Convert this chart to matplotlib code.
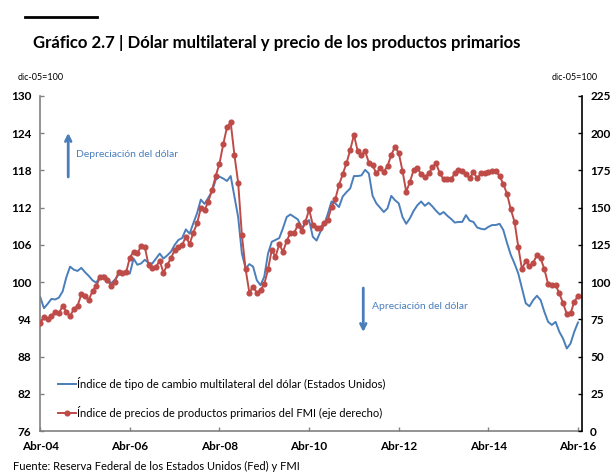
import matplotlib.pyplot as plt
import numpy as np

plt.rcParams['font.family'] = ['Lato', 'DejaVu Sans']

# monthly data, Apr-04 .. Apr-16
dolar = [97.6, 95.8, 96.5, 97.3, 97.2, 97.5, 98.5, 100.8, 102.5, 102.0,
         101.8, 102.3, 101.6, 101.0, 100.3, 99.9, 100.9, 101.1, 100.5, 99.8,
         100.4, 101.2, 101.4, 101.3, 101.4, 103.8, 102.8, 103.0, 103.6, 103.1,
         103.0, 103.8, 104.6, 103.8, 104.3, 104.9, 106.0, 106.8, 107.1, 108.5,
         107.8, 109.5, 111.1, 113.3, 112.6, 113.6, 114.6, 116.5, 117.0, 116.7,
         116.3, 117.1, 113.8, 110.5, 104.6, 102.2, 102.9, 102.5, 100.3, 99.5,
         100.9, 104.6, 106.5, 106.8, 107.1, 108.7, 110.5, 110.9, 110.5, 110.1,
         108.7, 109.5, 110.0, 107.3, 106.7, 108.1, 109.2, 111.0, 113.0, 112.7,
         112.1, 113.8, 114.5, 115.1, 117.1, 117.1, 117.2, 118.1, 117.5, 113.9,
         112.7, 112.0, 111.3, 111.9, 113.9, 113.2, 112.7, 110.5, 109.4, 110.3,
         111.5, 112.4, 113.0, 112.3, 112.8, 112.2, 111.5, 110.9, 111.3, 110.7,
         110.2, 109.6, 109.7, 109.7, 110.8, 109.9, 109.7, 108.8, 108.6, 108.5,
         108.9, 109.2, 109.2, 109.4, 108.4, 106.3, 104.4, 103.0, 101.4, 99.0,
         96.6, 96.1, 97.1, 97.8, 97.1, 95.2, 93.6, 93.1, 93.6, 92.0,
         90.9, 89.3, 90.1, 92.0, 93.5]

primarios = [72.7, 76.3, 75.0, 77.2, 80.1, 79.0, 84.0, 80.1, 77.2, 81.9,
             84.0, 91.8, 90.9, 88.0, 94.0, 97.4, 103.2, 103.6, 101.4, 97.4,
             100.3, 107.0, 105.9, 106.5, 116.5, 120.4, 119.3, 124.2, 123.8, 111.5,
             109.3, 110.3, 114.4, 106.3, 111.5, 116.0, 121.6, 123.4, 124.9, 130.5,
             125.6, 133.2, 139.5, 149.6, 148.4, 154.0, 161.9, 171.3, 179.6, 192.5,
             204.0, 207.3, 185.4, 166.8, 131.6, 108.6, 92.9, 96.9, 92.9, 94.7,
             98.7, 108.6, 121.6, 117.0, 125.4, 120.4, 127.6, 133.2, 133.2, 138.3,
             134.5, 140.2, 148.9, 138.3, 136.1, 136.5, 139.9, 141.7, 150.6, 155.6,
             165.2, 172.4, 179.8, 188.7, 198.8, 188.2, 185.4, 188.0, 180.2, 178.6,
             173.0, 176.4, 174.1, 178.0, 185.4, 190.9, 186.7, 174.8, 160.7, 167.4,
             175.3, 176.4, 172.6, 170.4, 173.0, 177.1, 179.8, 173.0, 169.0, 169.0,
             169.0, 173.0, 175.3, 174.8, 172.6, 169.7, 174.1, 169.7, 173.0, 173.5,
             174.1, 174.8, 174.8, 171.3, 165.9, 159.2, 148.9, 140.6, 123.8, 108.6,
             114.4, 110.8, 113.0, 118.2, 116.0, 108.6, 98.7, 98.0, 98.0, 92.5,
             85.8, 78.6, 79.0, 86.8, 90.7]

tick_labels = ['Abr-04', 'Abr-06', 'Abr-08', 'Abr-10', 'Abr-12', 'Abr-14', 'Abr-16']

blue = '#4a7ebb'
red = '#be4b48'
gray = '#808080'

x = np.arange(len(dolar))

fig = plt.figure(figsize=(6.13, 4.75), dpi=100)
ax = fig.add_axes([0.065, 0.0926, 0.884, 0.7053])
ax2 = ax.twinx()

l1, = ax.plot(x, dolar, color=blue, lw=1.4)
l2, = ax2.plot(x, primarios, color=red, lw=1.4, marker='o', ms=3.4)

ax.set_xlim(-0.1, 145)
ax.set_ylim(76, 130)
ax.set_yticks(np.arange(76, 131, 6))
ax2.set_ylim(0, 225)
ax2.set_yticks(np.arange(0, 226, 25))
ax.set_xticks(np.arange(0, 145, 24))
ax.set_xticklabels(tick_labels)

for a in (ax, ax2):
    a.spines['top'].set_visible(False)
ax.spines['left'].set_color(gray)
ax.spines['bottom'].set_color(gray)
ax.spines['right'].set_visible(False)
ax2.spines['left'].set_visible(False)
ax2.spines['bottom'].set_visible(False)
ax2.spines['right'].set_color('black')
for a in (ax, ax2):
    for s in a.spines.values():
        s.set_linewidth(1.2)

ax.tick_params(axis='both', direction='in', length=3, width=1, color=gray,
               labelsize=8.5, pad=6)
ax.tick_params(axis='x', pad=7)
ax2.tick_params(axis='y', direction='in', length=3, width=1, color='black',
                labelsize=8.5, pad=6)
for lab in ax.get_xticklabels() + ax.get_yticklabels() + ax2.get_yticklabels():
    lab.set_fontweight('bold')

leg = ax.legend([l1, l2],
                ['Índice de tipo de cambio multilateral del dólar (Estados Unidos)',
                 'Índice de precios de productos primarios del FMI (eje derecho)'],
                loc='lower left', bbox_to_anchor=(0.015, 0.005), frameon=False,
                fontsize=8, handlelength=1.6, handletextpad=0.1, labelspacing=1.5)

# arrows
ax.annotate('', xy=(7.5, 124.5), xytext=(7.5, 116.5),
            arrowprops=dict(arrowstyle='->', color=blue, lw=2, mutation_scale=10))
ax.text(9.5, 120.5, 'Depreciación del dólar', color=blue, fontsize=7.5, va='center')
ax.annotate('', xy=(86.5, 91.5), xytext=(86.5, 99.5),
            arrowprops=dict(arrowstyle='->', color=blue, lw=2, mutation_scale=10))
ax.text(88.8, 96, 'Apreciación del dólar', color=blue, fontsize=7.5, va='center')

# header
fig.add_artist(plt.Line2D([25 / 613, 97 / 613], [1 - 17 / 475, 1 - 17 / 475],
                          color='black', lw=2))
fig.text(33 / 613, 1 - 43 / 475,
         'Gráfico 2.7 | Dólar multilateral y precio de los productos primarios',
         fontsize=12.1, fontweight='bold', va='center')
fig.text(18 / 613, 1 - 77 / 475, 'dic-05=100', fontsize=6.5, va='center')
fig.text(598 / 613, 1 - 77 / 475, 'dic-05=100', fontsize=6.5, va='center', ha='right')
fig.text(13 / 613, 1 - 466 / 475,
         'Fuente: Reserva Federal de los Estados Unidos (Fed) y FMI',
         fontsize=8, va='center')

fig.savefig('out.png', dpi=100)
